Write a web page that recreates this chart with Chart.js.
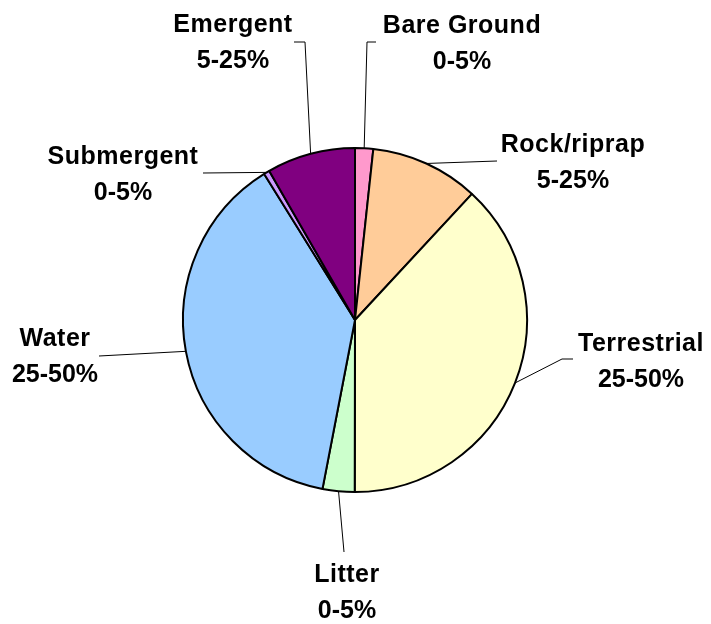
<!DOCTYPE html>
<html>
<head>
<meta charset="utf-8">
<script src="https://cdn.jsdelivr.net/npm/chart.js@4.4.1/dist/chart.umd.min.js"></script>
<style>
  html, body { margin: 0; padding: 0; background: #ffffff; }
  #wrap { width: 711px; height: 624px; position: relative; }
</style>
</head>
<body>
<div id="wrap"><canvas id="c" width="711" height="624"></canvas></div>
<script>
// ---- data ----
const categories = ["Bare Ground", "Rock/riprap", "Terrestrial", "Litter", "Water", "Submergent", "Emergent"];
const coverValues = [1.7, 10.2, 38.1, 3.0, 38.1, 0.55, 8.3];
const rangeLabels = ["0-5%", "5-25%", "25-50%", "0-5%", "25-50%", "0-5%", "5-25%"];

// ---- styles / layout (kept separate from data) ----
const sliceColors = ["#FF99CC", "#FFCC99", "#FFFFCC", "#CCFFCC", "#99CCFF", "#CC99FF", "#800080"];
// label center x, first-line baseline y, and leader-line waypoints (after the arc point)
const labelLayout = [
  { x: 462, y: 33,  leader: [[367, 42], [376, 42]] },
  { x: 573, y: 152, leader: [[497, 161]] },
  { x: 641, y: 351, leader: [[562, 359], [573, 359]] },
  { x: 347, y: 582, leader: [[344, 552]] },
  { x: 55,  y: 346, leader: [[99, 356]] },
  { x: 123, y: 164, leader: [[203, 173]] },
  { x: 233, y: 32,  leader: [[305, 42], [294, 42]] }
];
const lineGap = 36;

const labelPlugin = {
  id: 'pieLabels',
  afterDatasetsDraw(chart) {
    const ctx = chart.ctx;
    const meta = chart.getDatasetMeta(0);
    ctx.save();
    meta.data.forEach((arc, i) => {
      const p = arc.getProps(['x', 'y', 'startAngle', 'endAngle', 'outerRadius'], true);
      const mid = (p.startAngle + p.endAngle) / 2;
      const ax = p.x + Math.cos(mid) * p.outerRadius;
      const ay = p.y + Math.sin(mid) * p.outerRadius;
      const lay = labelLayout[i];
      ctx.beginPath();
      ctx.strokeStyle = '#000000';
      ctx.lineWidth = 1;
      ctx.moveTo(ax, ay);
      lay.leader.forEach(pt => ctx.lineTo(pt[0], pt[1]));
      ctx.stroke();

      ctx.fillStyle = '#000000';
      ctx.textAlign = 'center';
      ctx.textBaseline = 'alphabetic';
      ctx.font = 'bold 25px "Liberation Sans", Arial, sans-serif';
      try { ctx.letterSpacing = '0.5px'; } catch (e) {}
      ctx.fillText(categories[i], lay.x, lay.y);
      try { ctx.letterSpacing = '0px'; } catch (e) {}
      ctx.fillText(rangeLabels[i], lay.x, lay.y + lineGap);
    });
    ctx.restore();
  }
};

new Chart(document.getElementById('c'), {
  type: 'pie',
  data: {
    labels: categories,
    datasets: [{
      data: coverValues,
      backgroundColor: sliceColors,
      borderColor: '#000000',
      borderWidth: 2
    }]
  },
  options: {
    responsive: false,
    animation: false,
    radius: 172,
    layout: { padding: { left: 0, right: 1, top: 16, bottom: 0 } },
    plugins: {
      legend: { display: false },
      tooltip: { enabled: false }
    }
  },
  plugins: [labelPlugin]
});
</script>
</body>
</html>
